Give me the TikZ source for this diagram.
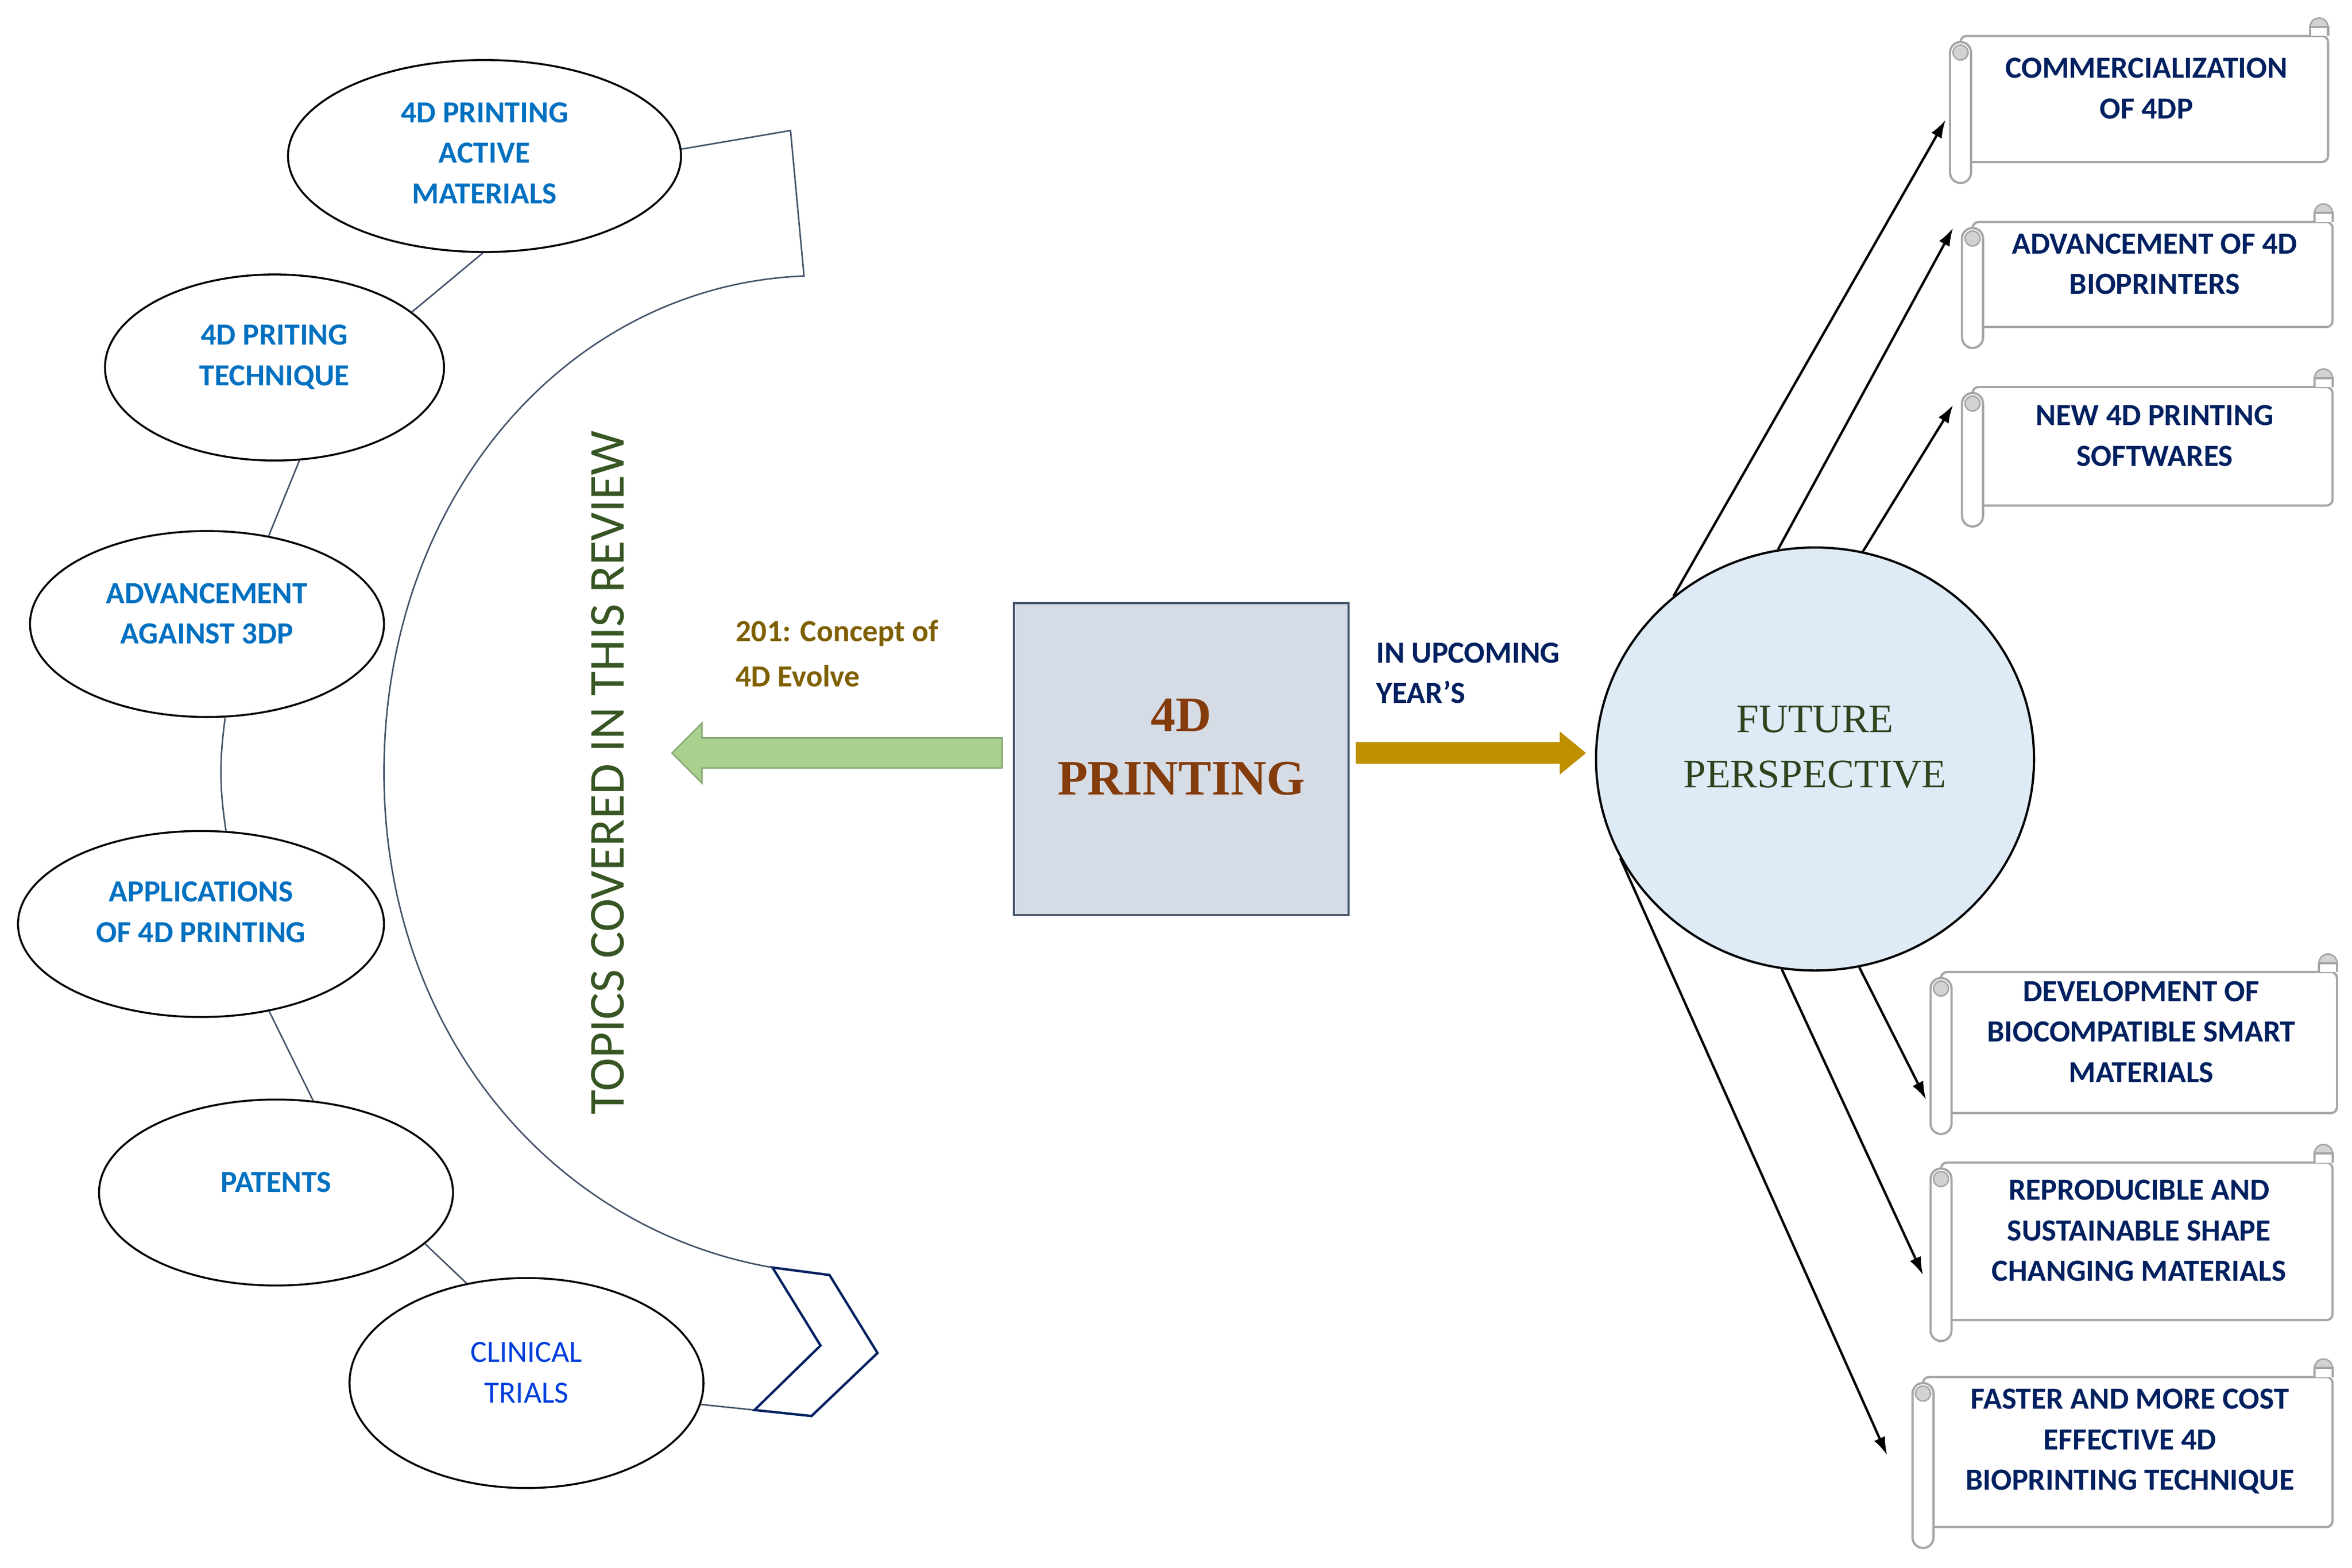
\documentclass[tikz,border=0pt]{standalone}
\usepackage{fontspec}
\setmainfont{Carlito}
\newfontfamily\serifx{Liberation Serif}
\usetikzlibrary{shapes.geometric,arrows.meta}
\definecolor{navy}{HTML}{002060}
\definecolor{ebl}{HTML}{0070C0}
\definecolor{slate}{HTML}{44546A}
\definecolor{olive}{HTML}{7F6000}
\definecolor{dgreen}{HTML}{375623}
\definecolor{gold}{HTML}{BF9000}
\definecolor{lgreen}{HTML}{A9D18E}
\definecolor{rust}{HTML}{843C0C}
\definecolor{pale}{HTML}{DEEBF7}
\definecolor{boxf}{HTML}{D6DCE5}
\newcommand\myscroll[6]{%
  \draw[gray!70,line width=1.5,fill=white,rounded corners=4] (#2+7,#3) rectangle (#4,#5);
  \draw[gray!70,line width=1.5,fill=white,rounded corners=7] (#2,#3+4) rectangle (#2+14,#5+14);
  \draw[gray!70,line width=1,fill=gray!35] (#2+7,#3+11) circle (5);
  \draw[gray!70,line width=1,fill=gray!35] (#4-6,#3-6) circle (6);
  \draw[gray!70,line width=1.5,fill=white] (#4-12,#3) -- (#4-12,#3-6) -- (#4,#3-6) -- (#4,#3);
  \node[st] (#1) at ({(#2+#4)/2+5},{(#3+#5)/2-7}) {#6};}
\begin{document}
\begin{tikzpicture}[x=1pt,y=-1pt,
  et/.style={font=\fontsize{20.5}{27}\selectfont\bfseries,text=ebl,align=center},
  st/.style={font=\fontsize{20.5}{27}\selectfont\bfseries,text=navy,align=center},
  cn/.style={slate,line width=1},
  ar/.style={-{Latex[length=12,width=8]},line width=1.6}]
\useasboundingbox (0,0) rectangle (1568,1045);
% ellipses
\node[ellipse,draw,line width=1.3,minimum width=262,minimum height=128] (e1) at (323,104) {};
\node[ellipse,draw,line width=1.3,minimum width=226,minimum height=124] (e2) at (183,245) {};
\node[ellipse,draw,line width=1.3,minimum width=236,minimum height=124] (e3) at (138,416) {};
\node[ellipse,draw,line width=1.3,minimum width=244,minimum height=124] (e4) at (134,616) {};
\node[ellipse,draw,line width=1.3,minimum width=236,minimum height=124] (e5) at (184,795) {};
\node[ellipse,draw,line width=1.3,minimum width=236,minimum height=140] (e6) at (351,922) {};
\node[et] (e1t) at (323,102) {4D PRINTING\\ACTIVE\\MATERIALS};
\node[et] (e2t) at (183,238) {4D PRITING\\TECHNIQUE};
\node[et] (e3t) at (138,409) {ADVANCEMENT\\AGAINST 3DP};
\node[et] (e4t) at (134,608) {APPLICATIONS\\OF 4D PRINTING};
\node[et] (e5t) at (184,788) {PATENTS};
\node[et,text=blue!45!ebl,font=\fontsize{20.5}{27}\selectfont] (e6t) at (351,915) {CLINICAL\\TRIALS};
\draw[cn] (e1.-91) -- (e2.22);
\draw[cn] (e2.-75) -- (e3.55);
\draw[cn] (e3.-79) to[bend right=8] (e4.75);
\draw[cn] (e4.-52) -- (e5.68);
\draw[cn] (e5.-19) -- (e6.121);
% big arc
\coordinate (a1) at (527,87);
\coordinate (a2) at (536,184);
\coordinate (a3) at (515,845);
\coordinate (a4) at (503,940);
\draw[cn] (e1.2) -- (a1) -- (a2) .. controls (380,190) and (256,330) .. (256,515) .. controls (256,690) and (370,820) .. (a3);
\draw[cn] (e6.-7) -- (a4);
\draw[navy,line width=1.6,line join=miter] (a3) -- (553,850) -- (585,902) -- (541,944) -- (a4) -- (547,897) -- cycle;
\node[rotate=90,text=dgreen,font=\fontsize{33.5}{36}\selectfont] (tp) at (405,515) {TOPICS COVERED IN THIS REVIEW};
% center box
\draw[draw=slate,fill=boxf,line width=1.3] (676,402) rectangle (899,610);
\node[align=center,font=\serifx\fontsize{33}{42}\selectfont\bfseries,text=rust] (c) at (787.5,498) {4D\\PRINTING};
\draw[draw=lgreen!80!black,fill=lgreen,line width=1] (668,492) -- (468,492) -- (468,482) -- (448,502) -- (468,522) -- (468,512) -- (668,512) -- cycle;
\node[anchor=north west,align=left,font=\fontsize{20.5}{30}\selectfont\bfseries,text=olive] (lb1) at (487,410) {201: Concept of\\4D Evolve};
\draw[fill=gold,draw=gold] (904,495) -- (1040,495) -- (1040,488) -- (1057,502) -- (1040,516) -- (1040,509) -- (904,509) -- cycle;
\node[anchor=north west,align=left,font=\fontsize{20.5}{27}\selectfont\bfseries,text=navy] (lb2) at (914,425) {IN UPCOMING\\YEAR'S};
\node[ellipse,draw,line width=1.5,fill=pale,minimum width=292,minimum height=282] (fp) at (1210,506) {};
\node[align=center,font=\serifx\fontsize{27}{37}\selectfont,text=dgreen!80!black] (fpt) at (1210,498) {FUTURE\\PERSPECTIVE};
% scrolls
\myscroll{s1}{1300}{24}{1552}{108}{COMMERCIALIZATION\\OF 4DP}
\myscroll{s2}{1308}{148}{1555}{218}{ADVANCEMENT OF 4D\\BIOPRINTERS}
\myscroll{s3}{1308}{258}{1555}{337}{NEW 4D PRINTING\\SOFTWARES}
\myscroll{s4}{1287}{648}{1558}{742}{DEVELOPMENT OF\\BIOCOMPATIBLE SMART\\MATERIALS}
\myscroll{s5}{1287}{775}{1555}{880}{REPRODUCIBLE AND\\SUSTAINABLE SHAPE\\CHANGING MATERIALS}
\myscroll{s6}{1275}{918}{1555}{1018}{FASTER AND MORE COST\\EFFECTIVE 4D\\BIOPRINTING TECHNIQUE}
\coordinate (t1) at (1297,80);
\coordinate (t2) at (1302,152);
\coordinate (t3) at (1302,270);
\coordinate (t4) at (1284,733);
\coordinate (t5) at (1282,850);
\coordinate (t6) at (1258,970);
\draw[ar] (fp.131) -- (t1);
\draw[ar] (fp.100) -- (t2);
\draw[ar] (fp.77) -- (t3);
\draw[ar] (fp.-78) -- (t4);
\draw[ar] (fp.-99) -- (t5);
\draw[ar] (fp.-153) -- (t6);
\end{tikzpicture}
\end{document}
